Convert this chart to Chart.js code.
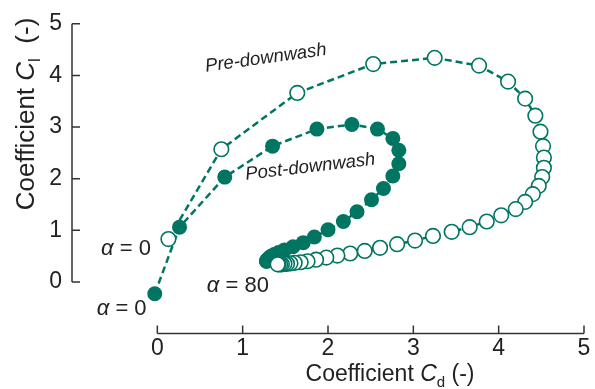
<!DOCTYPE html>
<html lang="en">
<head>
  <meta charset="UTF-8" />
  <title>Cl vs Cd</title>
  <script src="https://cdn.jsdelivr.net/npm/chart.js"></script>
  <style>
    body { margin: 0; background: white; }
    canvas { display: block; }
  </style>
</head>
<body>
  <canvas id="polar" width="595" height="389"></canvas>

  <script>
    // pre-downwash (open circles), alpha = 0 .. 80
    const preCd = [0.13, 0.75, 1.64, 2.53, 3.25, 3.77, 4.11, 4.31, 4.43, 4.49, 4.52, 4.53, 4.53, 4.51, 4.47, 4.40,
                   4.31, 4.20, 4.03, 3.86, 3.66, 3.45, 3.23, 3.02, 2.81, 2.61, 2.43, 2.26, 2.11, 1.98, 1.86, 1.76,
                   1.68, 1.61, 1.56, 1.52, 1.49, 1.46, 1.44, 1.42, 1.41];
    const preCl = [0.83, 2.57, 3.66, 4.22, 4.34, 4.19, 3.88, 3.55, 3.22, 2.91, 2.63, 2.41, 2.21, 2.03, 1.86, 1.70,
                   1.55, 1.41, 1.29, 1.17, 1.06, 0.97, 0.89, 0.80, 0.73, 0.66, 0.60, 0.55, 0.51, 0.47, 0.43, 0.40,
                   0.38, 0.37, 0.36, 0.35, 0.35, 0.34, 0.34, 0.34, 0.34];

    // post-downwash (filled circles)
    const postCd = [-0.03, 0.26, 0.79, 1.35, 1.87, 2.28, 2.58, 2.76, 2.83, 2.83, 2.76, 2.65, 2.51, 2.34, 2.18, 2.00,
                    1.84, 1.71, 1.59, 1.49, 1.42, 1.37, 1.34, 1.32, 1.31, 1.30, 1.29, 1.29, 1.28, 1.28, 1.28];
    const postCl = [-0.23, 1.06, 2.03, 2.63, 2.96, 3.05, 2.96, 2.78, 2.55, 2.29, 2.05, 1.81, 1.59, 1.36, 1.17, 1.01,
                    0.87, 0.76, 0.68, 0.62, 0.57, 0.53, 0.50, 0.48, 0.46, 0.44, 0.43, 0.42, 0.41, 0.40, 0.40];

    const axisTicks = [0, 1, 2, 3, 4, 5];

    // text notes: [text, x, y, rotation in degrees]
    const notes = [
      ['Pre-downwash', 0.57, 4.07, -8],
      ['Post-downwash', 1.04, 1.98, -6.7]
    ];
    const alphaNotes = [
      ['0', -0.66, 0.53],
      ['0', -0.71, -0.65],
      ['80', 0.58, -0.20]
    ];

    const teal = '#007561';
    const ink = '#222';
    const family = 'Arial, "Liberation Sans", sans-serif';

    function toPoints(xs, ys) {
      return xs.map((v, i) => ({ x: v, y: ys[i] }));
    }

    // draws a run of text pieces, each with its own font and vertical shift
    function drawPieces(ctx, pieces, cx, base) {
      let total = 0;
      pieces.forEach(p => { ctx.font = p.font; total += ctx.measureText(p.t).width; });
      let x = cx - total / 2;
      pieces.forEach(p => {
        ctx.font = p.font;
        ctx.fillText(p.t, x, base + (p.dy || 0));
        x += ctx.measureText(p.t).width;
      });
    }

    const frame = {
      id: 'rangeFrame',
      afterDraw(chart) {
        const ctx = chart.ctx;
        const x = chart.scales.x, y = chart.scales.y;
        const xl = x.getPixelForValue(-1), yb = y.getPixelForValue(-1);

        // axis lines only from 0 to 5, ticks pointing inward
        ctx.save();
        ctx.setLineDash([]);
        ctx.strokeStyle = '#333';
        ctx.lineWidth = 1.5;
        ctx.beginPath();
        ctx.moveTo(xl, y.getPixelForValue(0));
        ctx.lineTo(xl, y.getPixelForValue(5));
        ctx.moveTo(x.getPixelForValue(0), yb);
        ctx.lineTo(x.getPixelForValue(5), yb);
        axisTicks.forEach(t => {
          const py = y.getPixelForValue(t);
          ctx.moveTo(xl, py);
          ctx.lineTo(xl + 8, py);
          const px = x.getPixelForValue(t);
          ctx.moveTo(px, yb);
          ctx.lineTo(px, yb - 8);
        });
        ctx.stroke();
        ctx.restore();

        ctx.save();
        ctx.fillStyle = ink;
        ctx.textAlign = 'left';
        ctx.textBaseline = 'alphabetic';

        // axis titles
        drawPieces(ctx, [
          { t: 'Coefficient ', font: `23px ${family}` },
          { t: 'C', font: `italic 23px ${family}` },
          { t: 'd', font: `15px ${family}`, dy: 6 },
          { t: ' (-)', font: `23px ${family}` }
        ], 390, 381);

        ctx.save();
        ctx.translate(34, 114);
        ctx.rotate(-Math.PI / 2);
        drawPieces(ctx, [
          { t: 'Coefficient ', font: `26px ${family}` },
          { t: 'C', font: `italic 26px ${family}` },
          { t: 'l', font: `17px ${family}`, dy: 6 },
          { t: '  (-)', font: `26px ${family}` }
        ], 0, 0);
        ctx.restore();

        // series notes
        ctx.font = `italic 18.5px ${family}`;
        notes.forEach(([t, dx, dy, rot]) => {
          ctx.save();
          ctx.translate(x.getPixelForValue(dx), y.getPixelForValue(dy));
          ctx.rotate(rot * Math.PI / 180);
          ctx.fillText(t, 0, 0);
          ctx.restore();
        });

        alphaNotes.forEach(([v, dx, dy]) => {
          let px = x.getPixelForValue(dx);
          const py = y.getPixelForValue(dy);
          ctx.font = `italic 22px ${family}`;
          ctx.fillText('\u03b1', px, py);
          px += ctx.measureText('\u03b1').width;
          ctx.font = `22px ${family}`;
          ctx.fillText(' = ' + v, px, py);
        });
        ctx.restore();
      }
    };

    new Chart(document.getElementById('polar').getContext('2d'), {
      type: 'scatter',
      data: {
        datasets: [
          {
            label: 'Pre-downwash',
            data: toPoints(preCd, preCl),
            showLine: true,
            borderColor: teal,
            borderWidth: 2.5,
            borderDash: [7, 4],
            backgroundColor: 'white',
            pointBackgroundColor: 'white',
            pointBorderColor: teal,
            pointBorderWidth: 1.6,
            pointRadius: 7.3,
            clip: false
          },
          {
            label: 'Post-downwash',
            data: toPoints(postCd, postCl),
            showLine: true,
            borderColor: teal,
            borderWidth: 2.5,
            borderDash: [7, 4],
            backgroundColor: teal,
            pointBackgroundColor: teal,
            pointBorderColor: teal,
            pointBorderWidth: 0,
            pointRadius: 7.5,
            clip: false
          }
        ]
      },
      options: {
        responsive: false,
        animation: false,
        layout: { padding: { top: 17, right: 11, left: 0, bottom: 0 } },
        plugins: {
          legend: { display: false },
          tooltip: { enabled: false }
        },
        scales: {
          x: {
            type: 'linear',
            min: -1,
            max: 5,
            grid: { display: false, drawTicks: false },
            border: { display: false },
            ticks: {
              stepSize: 1,
              padding: 1,
              color: ink,
              font: { family: family, size: 23 },
              callback: v => (v < 0 ? '' : v)
            },
            afterFit(s) { s.height = 55.5; }
          },
          y: {
            min: -1,
            max: 5,
            grid: { display: false, drawTicks: false },
            border: { display: false },
            ticks: {
              stepSize: 1,
              padding: 10,
              color: ink,
              font: { family: family, size: 23 },
              callback: v => (v < 0 ? '' : v)
            },
            afterFit(s) { s.width = 72; }
          }
        }
      },
      plugins: [frame]
    });
  </script>
</body>
</html>
